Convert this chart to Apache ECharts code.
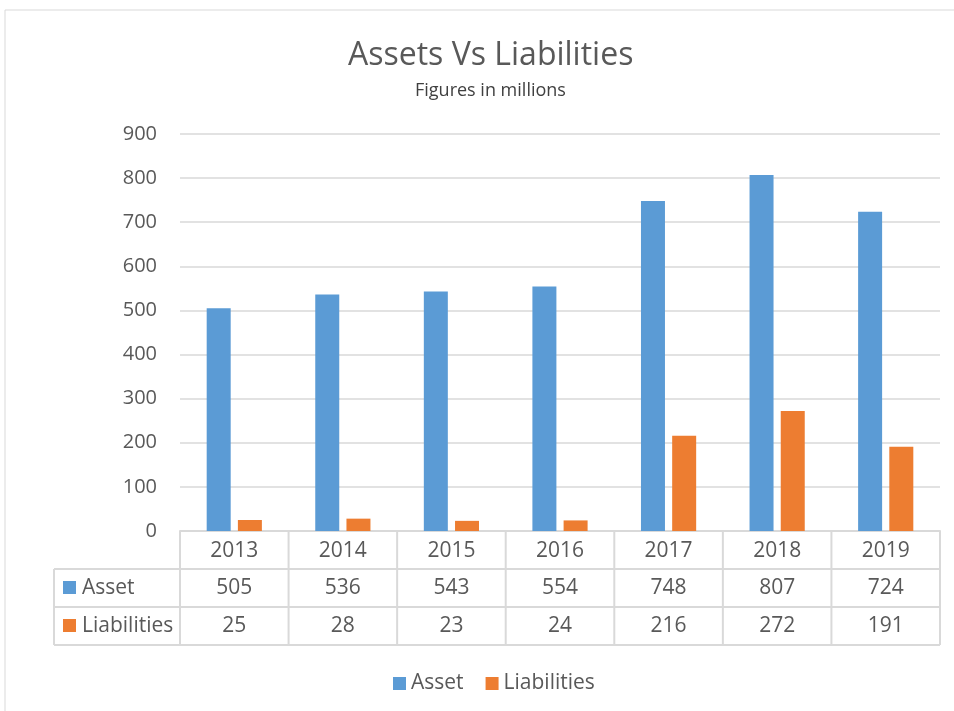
<!DOCTYPE html>
<html>
<head>
<meta charset="utf-8">
<script src="https://cdn.jsdelivr.net/npm/echarts@6/dist/echarts.min.js"></script>
<style>
  html, body { margin: 0; padding: 0; background: #fff; }
  #main { width: 954px; height: 711px; }
</style>
</head>
<body>
<div id="main"></div>
<script>
var years = ['2013', '2014', '2015', '2016', '2017', '2018', '2019']
var asset = [505, 536, 543, 554, 748, 807, 724]
var liabilities = [25, 28, 23, 24, 216, 272, 191]
var seriesNames = ['Asset', 'Liabilities']
var colors = ['#5b9bd5', '#ed7d31']

var font = 'Open Sans, Noto Sans, sans-serif'
var textColor = '#595959'
var lineColor = '#d9d9d9'

// plot geometry (matches grid below)
var gl = 180, gr = 940, gt = 134, gb = 531
var rowH = 38
var tableLeft = 54

var chart = echarts.init(document.getElementById('main'))

chart.setOption({
  animation: false,
  color: colors,
  title: [
    {
      text: 'Assets Vs Liabilities',
      left: 343,
      top: 35,
      textStyle: { fontFamily: font, fontSize: 32, fontWeight: 'normal', color: textColor }
    },
    {
      text: 'Figures in millions',
      left: 410,
      top: 77,
      textStyle: { fontFamily: font, fontSize: 18, fontWeight: 'normal', color: '#404040' }
    }
  ],
  legend: {
    data: seriesNames,
    top: 668,
    left: 388,
    icon: 'rect',
    itemWidth: 13,
    itemHeight: 13,
    itemGap: 22,
    textStyle: { fontFamily: font, fontSize: 21, color: textColor }
  },
  grid: { left: gl, right: 954 - gr, top: gt, bottom: 711 - gb },
  xAxis: {
    type: 'category',
    data: years,
    axisLine: { show: true, lineStyle: { color: lineColor, width: 2 } },
    axisTick: { show: false },
    axisLabel: { fontFamily: font, fontSize: 21, color: textColor, margin: 10 }
  },
  yAxis: {
    type: 'value',
    min: 0,
    max: 900,
    interval: 100,
    axisLine: { show: false },
    axisTick: { show: false },
    splitLine: { lineStyle: { color: lineColor, width: 1.5 } },
    axisLabel: { fontFamily: font, fontSize: 20, color: textColor, margin: 23 }
  },
  series: [
    { name: seriesNames[0], type: 'bar', data: asset, barWidth: 24, barGap: '30%' },
    { name: seriesNames[1], type: 'bar', data: liabilities, barWidth: 24 }
  ]
})

// data table under the plot
var g = []
var colW = (gr - gl) / years.length
var bottomY = gb + rowH * 3
function line (x1, y1, x2, y2) {
  g.push({ type: 'line', shape: { x1: x1, y1: y1, x2: x2, y2: y2 }, style: { stroke: lineColor, lineWidth: 2 }, silent: true })
}
// outer frame
g.push({ type: 'rect', shape: { x: 5, y: 10, width: 1000, height: 800 }, style: { fill: 'none', stroke: lineColor, lineWidth: 1 }, silent: true })
for (var i = 0; i <= years.length; i++) {
  line(gl + colW * i, gb, gl + colW * i, bottomY)
}
line(tableLeft, gb + rowH, gr, gb + rowH)
line(tableLeft, gb + rowH * 2, gr, gb + rowH * 2)
line(tableLeft, bottomY, gr, bottomY)
line(tableLeft, gb + rowH, tableLeft, bottomY)

var rows = [asset, liabilities]
rows.forEach(function (vals, r) {
  var cy = gb + rowH * (r + 1) + rowH / 2
  g.push({ type: 'rect', shape: { x: tableLeft + 9, y: cy - 7, width: 13, height: 13 }, style: { fill: colors[r] }, silent: true })
  g.push({ type: 'text', x: tableLeft + 28, y: cy, style: { text: seriesNames[r], font: '21px ' + font, fill: textColor, verticalAlign: 'middle' }, silent: true })
  vals.forEach(function (v, i) {
    var cx = chart.convertToPixel({ xAxisIndex: 0 }, years[i])
    g.push({ type: 'text', x: cx, y: cy, style: { text: String(v), font: '21px ' + font, fill: textColor, align: 'center', verticalAlign: 'middle' }, silent: true })
  })
})
chart.setOption({ graphic: g })
</script>
</body>
</html>
